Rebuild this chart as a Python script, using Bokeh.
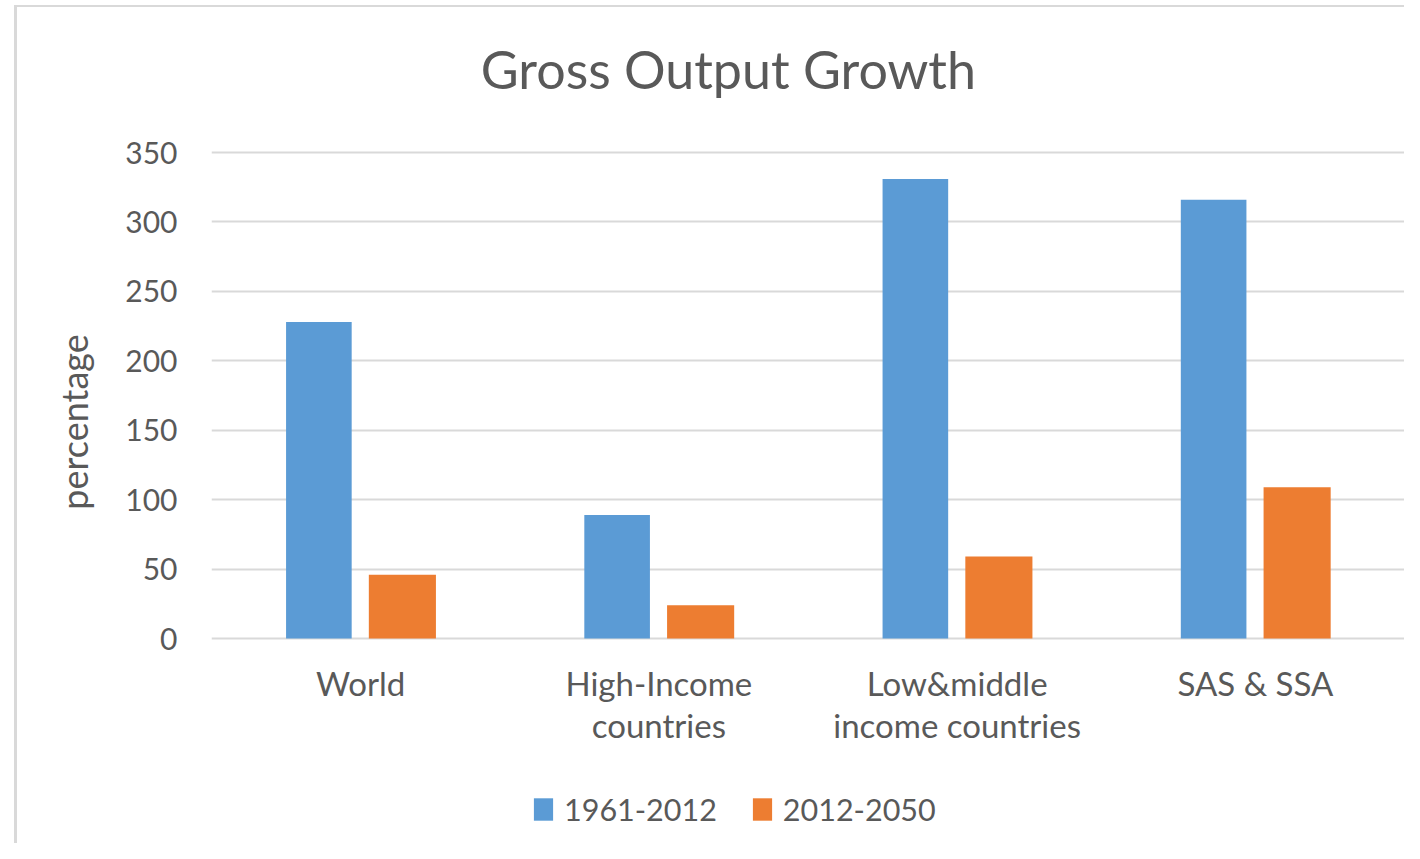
from bokeh.plotting import figure
from bokeh.models import FactorRange, Range1d, Legend, LegendItem, Label, ColumnDataSource
from bokeh.core.properties import value
from bokeh.transform import dodge
from bokeh.embed import file_html
from bokeh.resources import INLINE

categories = ["World", "High-Income\ncountries", "Low&middle\nincome countries", "SAS & SSA"]
series_names = ["1961-2012", "2012-2050"]
growth_1961_2012 = [228, 89, 331, 316]
growth_2012_2050 = [46, 24, 59, 109]
y_ticks = [0, 50, 100, 150, 200, 250, 300, 350]

BLUE = "#5B9BD5"
ORANGE = "#ED7D31"
TEXT = "#595959"
GRID = "#d9d9d9"
FONT = "Lato"

line1 = [c.split("\n")[0] for c in categories]
line2 = [c.split("\n")[1] if "\n" in c else "" for c in categories]
src = ColumnDataSource(dict(cat=categories, a=growth_1961_2012, b=growth_2012_2050,
                            l1=line1, l2=line2))

W, H = 1404, 843
p = figure(
    x_range=FactorRange(*categories, range_padding=0),
    y_range=Range1d(-147.63, 459.47),
    width=W, height=H,
    output_backend="svg", toolbar_location=None,
    min_border_left=211, min_border_right=0, min_border_top=0, min_border_bottom=0,
    background_fill_alpha=0, border_fill_alpha=0,
    styles={
        "background-color": "white",
        "background-image": f"linear-gradient({GRID},{GRID}), linear-gradient({GRID},{GRID})",
        "background-size": "3px 100%, 100% 2px",
        "background-position": "14px 5px, 14px 5px",
        "background-repeat": "no-repeat",
    },
)
p.outline_line_color = None
p.xaxis.visible = False

r1 = p.vbar(x=dodge("cat", -0.14, range=p.x_range), top="a", width=0.22, source=src,
            fill_color=BLUE, line_color=None)
r2 = p.vbar(x=dodge("cat", 0.14, range=p.x_range), top="b", width=0.225, source=src,
            fill_color=ORANGE, line_color=None)

# category labels under each group
p.text(x="cat", y=-31.7, text="l1", source=src, text_font=value(FONT),
       text_font_size="33px", text_color=TEXT, text_align="center", text_baseline="middle")
p.text(x="cat", y=-62.6, text="l2", source=src, text_font=value(FONT),
       text_font_size="33px", text_color=TEXT, text_align="center", text_baseline="middle")

p.xgrid.grid_line_color = None
p.ygrid.grid_line_color = GRID
p.ygrid.grid_line_width = 2
p.yaxis.ticker = y_ticks

ax = p.yaxis[0]
ax.axis_line_color = None
ax.major_tick_line_color = None
ax.minor_tick_line_color = None
ax.major_label_text_font = FONT
ax.major_label_text_font_size = "30px"
ax.major_label_text_color = TEXT
ax.major_label_standoff = 28
ax.axis_label = "percentage"
ax.axis_label_text_font = FONT
ax.axis_label_text_font_size = "36px"
ax.axis_label_text_font_style = "normal"
ax.axis_label_text_color = TEXT
ax.axis_label_standoff = 26

title = Label(x=1.733, y=409.8, text="Gross Output Growth", text_font=FONT,
              text_font_size="52px", text_color=TEXT, text_align="center",
              text_baseline="middle")
p.add_layout(title)

legend = Legend(
    items=[LegendItem(label=series_names[0], renderers=[r1]),
           LegendItem(label=series_names[1], renderers=[r2])],
    location=(320, 16), orientation="horizontal",
    glyph_width=24, glyph_height=28, label_standoff=9, spacing=33,
    padding=0, margin=0, border_line_alpha=0, background_fill_alpha=0,
    label_text_font=FONT, label_text_font_size="30.5px", label_text_color=TEXT,
)
p.add_layout(legend)

open("out.html", "w").write(file_html(p, INLINE))
